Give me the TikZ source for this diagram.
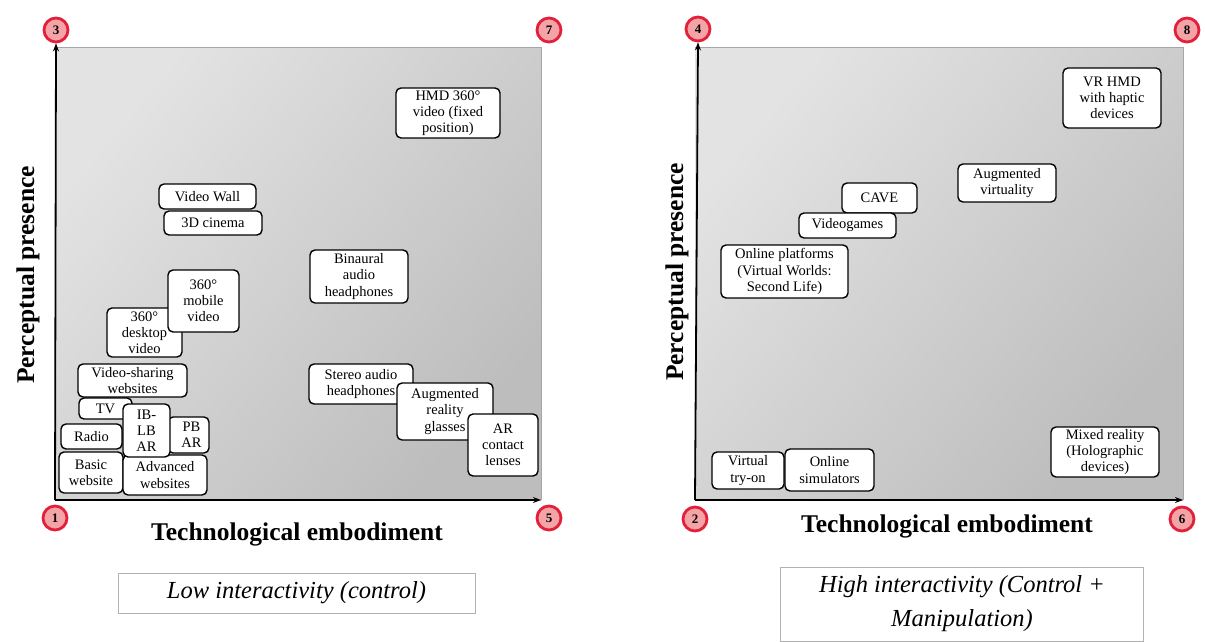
\documentclass[tikz,border=0pt]{standalone}
\usepackage{fontspec}
\setmainfont{Liberation Serif}
\usetikzlibrary{arrows.meta}
\definecolor{ringred}{HTML}{E2203A}
\definecolor{ringfill}{HTML}{F4A3A6}
\tikzset{
  bx/.style={draw=black, line width=1.4pt, fill=white, rounded corners=5pt, inner sep=0pt, align=center,
    font=\fontsize{14.5}{16.2}\selectfont},
  num/.style={circle, draw=ringred, line width=2.8pt, fill=ringfill, minimum size=24pt, inner sep=0pt,
    font=\fontsize{13}{13}\selectfont\bfseries},
  axlab/.style={font=\fontsize{25.5}{28}\selectfont\bfseries},
  axis/.style={line width=1.8pt, -{Stealth[length=8pt,width=6pt]}},
  capbox/.style={draw=gray!60, line width=0.8pt, fill=white, inner sep=0pt, align=center,
    font=\fontsize{24.5}{34}\selectfont\itshape},
  plotbg/.style={top color=gray!22, bottom color=gray!52, shading angle=50}
}
\newcommand{\bxat}[6]{\node[bx, minimum width=#4pt, minimum height=#5pt] (#1) at (#2,#3) {#6};}
\begin{document}
\begin{tikzpicture}[x=1pt,y=-1pt]
\useasboundingbox (0,0) rectangle (1205,642);
% ---------- left panel ----------
\shade[plotbg] (55,48) rectangle (541,500);
\draw[gray!70, line width=1pt] (55,48) -- (541,48) -- (541,500);
\coordinate (o1) at (55,500);
\coordinate (x1) at (541,500);
\node[num] (c1) at (55,518) {1};
\node[num] (c3) at (56,30) {3};
\node[num] (c7) at (549,30) {7};
\node[num] (c5) at (549,518) {5};
\draw[axis] (o1) -- (c3.south);
\draw[axis] (o1) -- (x1);
\node[axlab] (tx1) at (297,534) {Technological embodiment};
\node[axlab, rotate=90] (py1) at (28,275) {Perceptual presence};

\bxat{hmd}{448}{113}{104}{50}{HMD 360°\\video (fixed\\position)}
\bxat{bin}{359}{276.5}{98}{53}{Binaural\\audio\\headphones}
\bxat{vwall}{207.5}{196.5}{97}{25}{Video Wall}
\bxat{cinema}{213}{223}{98}{24}{3D cinema}
\bxat{desk}{144.5}{332.5}{75}{49}{360°\\desktop\\video}
\bxat{mobile}{203.5}{301}{71}{62}{360°\\mobile\\video}
\bxat{vshare}{132.5}{380.5}{109}{33}{Video-sharing\\websites}
\bxat{tv}{105.5}{408.5}{53}{21}{TV}
\bxat{radio}{91.5}{436.5}{61}{25}{Radio}
\bxat{basic}{91}{472.5}{64}{41}{Basic\\website}
\bxat{adv}{165}{475}{84}{40}{Advanced\\websites}
\bxat{pb}{188.5}{435}{41}{36}{\hspace*{6pt}PB\\\hspace*{6pt}AR}
\bxat{iblb}{146.5}{430.5}{47}{53}{IB-\\LB\\AR}
\bxat{stereo}{361}{384}{104}{40}{Stereo audio\\headphones}
\bxat{argl}{445}{411.5}{96}{57}{Augmented\\reality\\glasses}
\bxat{arcl}{503}{445}{70}{62}{AR\\contact\\lenses}

\node[capbox, minimum width=357pt, minimum height=40pt] (cap1) at (296.5,593) {Low interactivity (control)};

% ---------- right panel ----------
\shade[plotbg] (695,48) rectangle (1183,500);
\draw[gray!70, line width=1pt] (695,48) -- (1183,48) -- (1183,500);
\coordinate (o2) at (695,500);
\coordinate (x2) at (1183,500);
\node[num] (c2) at (695,519) {2};
\node[num] (c4) at (698,29) {4};
\node[num] (c8) at (1187,30) {8};
\node[num] (c6) at (1182,519) {6};
\draw[axis] (o2) -- (c4.south);
\draw[axis] (o2) -- (x2);
\node[axlab] (tx2) at (947,526) {Technological embodiment};
\node[axlab, rotate=90] (py2) at (677,272) {Perceptual presence};

\bxat{vrhmd}{1112}{98}{98}{60}{VR HMD\\with haptic\\devices}
\bxat{augv}{1007}{183}{98}{38}{Augmented\\virtuality}
\bxat{cave}{879.5}{198}{75}{30}{CAVE}
\bxat{vgames}{847.5}{225.5}{97}{25}{Videogames}
\bxat{online}{784.5}{271.5}{127}{53}{Online platforms\\(Virtual Worlds:\\Second Life)}
\bxat{mixed}{1105}{452}{108}{50}{Mixed reality\\(Holographic\\devices)}
\bxat{tryon}{748}{470.5}{72}{37}{Virtual\\try-on}
\bxat{sim}{829.5}{470}{89}{42}{Online\\simulators}

\node[capbox, minimum width=363pt, minimum height=74pt] (cap2) at (962,604) {High interactivity (Control +\\Manipulation)};
\end{tikzpicture}
\end{document}
